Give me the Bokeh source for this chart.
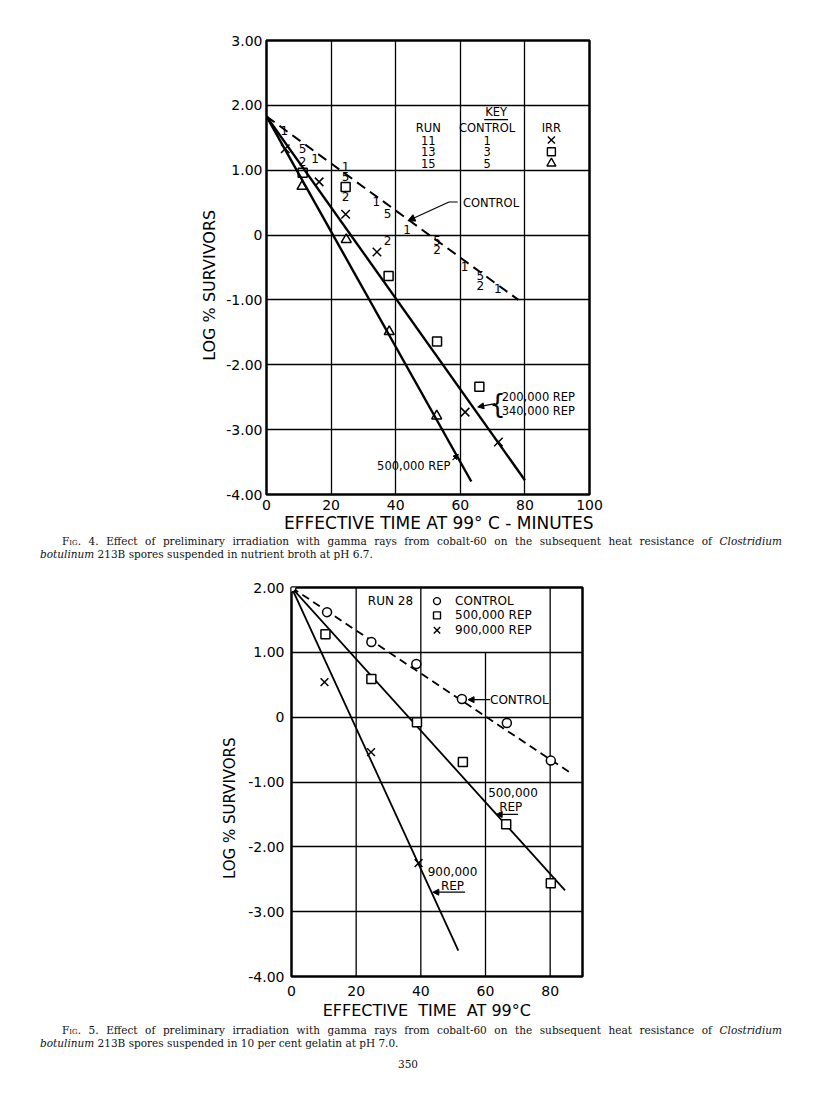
from bokeh.plotting import figure
from bokeh.models import Range1d, FixedTicker, Arrow, NormalHead, Div
from bokeh.embed import file_html
from bokeh.resources import INLINE
from bokeh.core.properties import value

SANS = "DejaVu Sans"
NB = "\u00a0"

# ---------------- Fig. 4 data ----------------
f4_x_ticks = [0, 20, 40, 60, 80, 100]
f4_x_labels = ["0", "20", "40", "60", "80", "100"]
f4_y_ticks = [3, 2, 1, 0, -1, -2, -3, -4]
f4_y_labels = ["3.00", "2.00", "1.00", "0", "-1.00", "-2.00", "-3.00", "-4.00"]

# control points, plotted as their run digit
f4_ctrl_x = [5.5, 11.2, 11.2, 15.0, 24.5, 24.5, 24.5, 34.0, 37.5, 37.5, 43.5, 52.8, 52.8, 61.3, 66.2, 66.2, 71.6]
f4_ctrl_y = [1.62, 1.33, 1.14, 1.18, 1.05, 0.90, 0.59, 0.51, 0.34, -0.08, 0.09, -0.08, -0.23, -0.49, -0.62, -0.77, -0.82]
f4_ctrl_mark = ["1", "5", "2", "1", "1", "5", "2", "1", "5", "2", "1", "5", "2", "1", "5", "2", "1"]

# irradiated: run 11 (x), run 13 (square), run 15 (triangle)
f4_run11_x = [5.8, 16.3, 24.5, 34.2, 61.5, 71.8]
f4_run11_y = [1.33, 0.82, 0.32, -0.26, -2.73, -3.19]
f4_run13_x = [11.2, 24.5, 37.8, 52.8, 65.9]
f4_run13_y = [0.96, 0.74, -0.63, -1.64, -2.34]
f4_run15_x = [11.0, 24.7, 38.0, 52.7]
f4_run15_y = [0.75, -0.07, -1.49, -2.79]

# fitted lines
f4_control_line_x = [0, 78]
f4_control_line_y = [1.83, -1.0]
f4_rep340_line_x = [0, 80]
f4_rep340_line_y = [1.83, -3.78]
f4_rep500_line_x = [0, 63.4]
f4_rep500_line_y = [1.83, -3.80]

# key table
key_runs = ["11", "13", "15"]
key_controls = ["1", "3", "5"]

# ---------------- Fig. 5 data ----------------
f5_x_ticks = [0, 20, 40, 60, 80]
f5_x_labels = ["0", "20", "40", "60", "80"]
f5_y_ticks = [2, 1, 0, -1, -2, -3, -4]
f5_y_labels = ["2.00", "1.00", "0", "-1.00", "-2.00", "-3.00", "-4.00"]
f5_vgrid_x = [20, 40, 60, 80]
f5_vgrid_top = [2, 2, 1, 2]

f5_ctrl_x = [0, 11.0, 24.7, 38.6, 52.7, 66.6, 80.2]
f5_ctrl_y = [2.00, 1.62, 1.16, 0.82, 0.28, -0.09, -0.67]
f5_rep500_x = [10.5, 24.7, 38.8, 53.0, 66.4, 80.2]
f5_rep500_y = [1.28, 0.59, -0.08, -0.69, -1.65, -2.56]
f5_rep900_x = [10.2, 24.6, 39.3]
f5_rep900_y = [0.54, -0.54, -2.25]

f5_control_line_x = [0, 86]
f5_control_line_y = [2.0, -0.85]
f5_rep500_line_x = [0, 84.6]
f5_rep500_line_y = [2.0, -2.67]
f5_rep900_line_x = [0, 51.6]
f5_rep900_line_y = [2.0, -3.60]

f5_legend = ["CONTROL", "500,000 REP", "900,000 REP"]


def style(p, xt, xl, yt, yl, xlabel, ylabel, ylab_size):
    p.outline_line_color = "black"
    p.outline_line_width = 2.5
    p.background_fill_color = "white"
    p.border_fill_color = "white"
    for ax in (p.xaxis[0], p.yaxis[0]):
        ax.axis_line_color = None
        ax.major_tick_line_color = None
        ax.minor_tick_line_color = None
        ax.major_tick_out = 0
        ax.major_tick_in = 0
        ax.minor_tick_out = 0
        ax.minor_tick_in = 0
        ax.major_label_text_font = SANS
        ax.major_label_text_font_size = "14px"
        ax.major_label_text_color = "black"
        ax.axis_label_text_font = SANS
        ax.axis_label_text_font_style = "normal"
        ax.axis_label_text_color = "black"
    p.xaxis.ticker = FixedTicker(ticks=xt)
    p.xaxis.major_label_overrides = {t: s for t, s in zip(xt, xl)}
    p.yaxis.ticker = FixedTicker(ticks=yt)
    p.yaxis.major_label_overrides = {t: s for t, s in zip(yt, yl)}
    p.xaxis.axis_label = xlabel
    p.yaxis.axis_label = ylabel
    p.xaxis.axis_label_text_font_size = "17px"
    p.yaxis.axis_label_text_font_size = ylab_size


def txt(p, x, y, s, size="12px", align="center", baseline="middle"):
    p.text(x=[x], y=[y], text=[s], text_font=value(SANS), text_font_size=size,
           text_align=align, text_baseline=baseline, text_color="black")


# ================= Figure 4 =================
p1 = figure(frame_width=323, frame_height=454, x_range=Range1d(0, 100), y_range=Range1d(-4, 3),
            output_backend="svg", toolbar_location=None,
            min_border_left=266, min_border_right=211, min_border_top=40, min_border_bottom=40)
style(p1, f4_x_ticks, f4_x_labels, f4_y_ticks, f4_y_labels,
      NB * 4 + "EFFECTIVE TIME AT 99° C - MINUTES", "LOG % SURVIVORS" + NB * 7, "16px")
p1.xgrid.ticker = FixedTicker(ticks=[20, 40, 60, 80])
p1.ygrid.ticker = FixedTicker(ticks=[-3, -2, -1, 0, 1, 2])
for g in (p1.xgrid[0], p1.ygrid[0]):
    g.grid_line_color = "black"
    g.grid_line_width = 1.3
p1.xaxis.major_label_standoff = 5
p1.yaxis.major_label_standoff = 4
p1.xaxis.axis_label_standoff = 0
p1.yaxis.axis_label_standoff = 4

p1.line(f4_control_line_x, f4_control_line_y, line_color="black", line_width=2, line_dash="10 6")
p1.line(f4_rep340_line_x, f4_rep340_line_y, line_color="black", line_width=2.4)
p1.line(f4_rep500_line_x, f4_rep500_line_y, line_color="black", line_width=2.4)

p1.text(x=f4_ctrl_x, y=f4_ctrl_y, text=f4_ctrl_mark, text_font=value(SANS), text_font_size="12px",
        text_align="center", text_baseline="middle", text_color="black")
p1.scatter(f4_run11_x, f4_run11_y, marker="x", size=12, line_color="black", line_width=1.5)
p1.scatter(f4_run13_x, f4_run13_y, marker="square", size=9, fill_color=None, line_color="black", line_width=1.5)
p1.scatter(f4_run15_x, f4_run15_y, marker="triangle", size=10, fill_color=None, line_color="black", line_width=1.5)

# key
txt(p1, 71.1, 1.90, "KEY", "11.5px")
p1.line([67.4, 74.8], [1.78, 1.78], line_color="black", line_width=1.2)
txt(p1, 50.1, 1.645, "RUN", "11.5px")
txt(p1, 68.3, 1.645, "CONTROL", "11.5px")
txt(p1, 88.2, 1.645, "IRR", "11.5px")
key_rows_y = [1.465, 1.285, 1.105]
for ry, r, c in zip(key_rows_y, key_runs, key_controls):
    txt(p1, 50.1, ry, r, "11.5px")
    txt(p1, 68.3, ry, c, "11.5px")
p1.scatter([88.2], [key_rows_y[0]], marker="x", size=10, line_color="black", line_width=1.4)
p1.scatter([88.2], [key_rows_y[1]], marker="square", size=8, fill_color=None, line_color="black", line_width=1.4)
p1.scatter([88.2], [key_rows_y[2]], marker="triangle", size=9, fill_color=None, line_color="black", line_width=1.4)

# annotations
txt(p1, 60.8, 0.49, "CONTROL", "11.5px", align="left")
p1.line([59.2, 56.5], [0.51, 0.51], line_color="black", line_width=1.2)
p1.add_layout(Arrow(end=NormalHead(size=7, fill_color="black", line_color="black"),
                    x_start=56.5, y_start=0.51, x_end=43.8, y_end=0.22, line_width=1.2))
txt(p1, 71.5, -2.61, "{", "26px")
txt(p1, 72.8, -2.49, "200,000 REP", "11.5px", align="left")
txt(p1, 72.8, -2.72, "340,000 REP", "11.5px", align="left")
p1.add_layout(Arrow(end=NormalHead(size=6, fill_color="black", line_color="black"),
                    x_start=70.8, y_start=-2.60, x_end=65.4, y_end=-2.65, line_width=1.2))
txt(p1, 45.6, -3.56, "500,000 REP", "11.5px")
p1.add_layout(Arrow(end=NormalHead(size=5, fill_color="black", line_color="black"),
                    x_start=57.6, y_start=-3.47, x_end=59.4, y_end=-3.38, line_width=1.2))

# ================= Figure 5 =================
p2 = figure(frame_width=291, frame_height=389, x_range=Range1d(0, 90), y_range=Range1d(-4, 2),
            output_backend="svg", toolbar_location=None,
            min_border_left=291, min_border_right=218, min_border_top=24, min_border_bottom=46)
style(p2, f5_x_ticks, f5_x_labels, f5_y_ticks, f5_y_labels,
      "EFFECTIVE" + NB + " TIME" + NB + " AT 99°C" + NB * 4, "LOG % SURVIVORS" + NB * 11, "15px")
p2.xaxis.axis_label_text_font_size = "16px"
p2.xgrid.visible = False
p2.ygrid.ticker = FixedTicker(ticks=[-3, -2, -1, 0, 1])
p2.ygrid.grid_line_color = "black"
p2.ygrid.grid_line_width = 1.3
p2.segment(x0=f5_vgrid_x, y0=[-4] * len(f5_vgrid_x), x1=f5_vgrid_x, y1=f5_vgrid_top,
           line_color="black", line_width=1.3)
p2.xaxis.major_label_standoff = 9
p2.yaxis.major_label_standoff = 7
p2.xaxis.axis_label_standoff = 2
p2.yaxis.axis_label_standoff = 6

p2.line(f5_control_line_x, f5_control_line_y, line_color="black", line_width=1.8, line_dash="8 5")
p2.line(f5_rep500_line_x, f5_rep500_line_y, line_color="black", line_width=1.8)
p2.line(f5_rep900_line_x, f5_rep900_line_y, line_color="black", line_width=1.8)
p2.scatter(f5_ctrl_x, f5_ctrl_y, marker="circle", size=9, fill_color="white", line_color="black", line_width=1.5)
p2.scatter(f5_rep500_x, f5_rep500_y, marker="square", size=9, fill_color="white", line_color="black", line_width=1.5)
p2.scatter(f5_rep900_x, f5_rep900_y, marker="x", size=11, line_color="black", line_width=1.5)

# legend
txt(p2, 30.6, 1.79, "RUN 28", "12px")
leg_y = [1.79, 1.57, 1.34]
p2.scatter([45.0], [leg_y[0]], marker="circle", size=7, fill_color=None, line_color="black", line_width=1.4)
p2.scatter([45.0], [leg_y[1]], marker="square", size=7, fill_color=None, line_color="black", line_width=1.4)
p2.scatter([45.0], [leg_y[2]], marker="x", size=9, line_color="black", line_width=1.4)
for ly, s in zip(leg_y, f5_legend):
    txt(p2, 50.6, ly, s, "12px", align="left")

# annotations
txt(p2, 61.4, 0.26, "CONTROL", "12px", align="left")
p2.add_layout(Arrow(end=NormalHead(size=6, fill_color="black", line_color="black"),
                    x_start=61.4, y_start=0.27, x_end=54.6, y_end=0.27, line_width=1.2))
txt(p2, 68.5, -1.16, "500,000", "12px")
txt(p2, 67.8, -1.39, "REP", "12px")
p2.add_layout(Arrow(end=NormalHead(size=6, fill_color="black", line_color="black"),
                    x_start=70.1, y_start=-1.50, x_end=63.3, y_end=-1.50, line_width=1.2))
txt(p2, 49.8, -2.38, "900,000", "12px")
txt(p2, 49.8, -2.60, "REP", "12px")
p2.add_layout(Arrow(end=NormalHead(size=6, fill_color="black", line_color="black"),
                    x_start=53.7, y_start=-2.70, x_end=43.7, y_end=-2.70, line_width=1.2))

# ================= captions =================
CAP = "font-family:&quot;DejaVu Serif&quot;,serif;font-size:10.5px;line-height:13px;color:#111;"
LINE1 = ("F<span style=\"font-variant:small-caps\">ig</span>. {n}. Effect of preliminary irradiation with gamma rays "
         "from cobalt-60 on the subsequent heat resistance of <i>Clostridium</i>")


def caption(n, rest, height, page=None, top=0):
    html = (f"<div style=\"width:742px;margin-left:40px;margin-top:{top}px;{CAP}\">"
            f"<div style=\"text-indent:22px;text-align:justify;text-align-last:justify;white-space:nowrap\">"
            f"{LINE1.format(n=n)}</div><div><i>botulinum</i> {rest}</div>")
    if page:
        html += f"<div style=\"text-align:center;margin-top:8px;width:736px\">{page}</div>"
    html += "</div>"
    return Div(text=html, width=800, height=height, margin=(0, 0, 0, 0))


cap1 = caption(4, "213B spores suspended in nutrient broth at pH 6.7.", 28)
cap2 = caption(5, "213B spores suspended in 10 per cent gelatin at pH 7.0.", 60, page="350", top=2)

open("out.html", "w").write(file_html([p1, cap1, p2, cap2], INLINE))
